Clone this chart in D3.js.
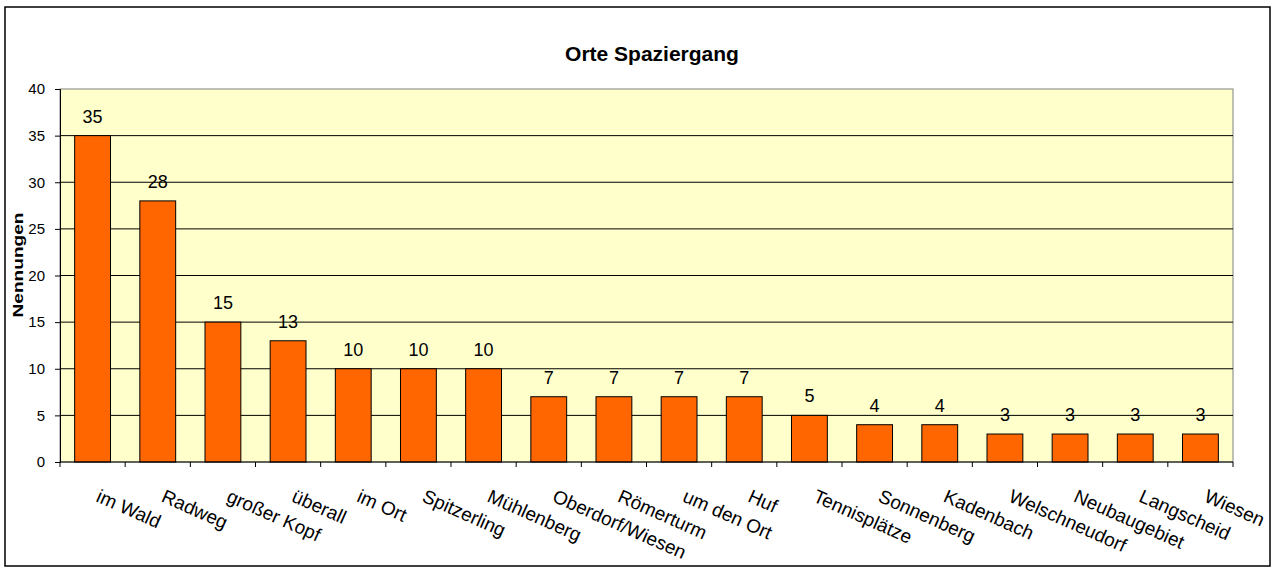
<!DOCTYPE html>
<html><head><meta charset="utf-8">
<script src="https://cdn.jsdelivr.net/npm/d3@7"></script>
<style>body{margin:0;background:#fff;}svg{display:block;font-family:Arial,"Liberation Sans",sans-serif;}</style>
</head><body>
<svg id="c" width="1276" height="569"></svg>
<script>
const categories = ["im Wald","Radweg","großer Kopf","überall","im Ort","Spitzerling","Mühlenberg","Oberdorf/Wiesen","Römerturm","um den Ort","Huf","Tennisplätze","Sonnenberg","Kadenbach","Welschneudorf","Neubaugebiet","Langscheid","Wiesen"];
const values = [35,28,15,13,10,10,10,7,7,7,7,5,4,4,3,3,3,3];
const yTicks = [0,5,10,15,20,25,30,35,40];
const title = "Orte Spaziergang";
const yTitle = "Nennungen";

const svg = d3.select("#c");
const L = 60, R = 1233, T = 89, B = 462;
const FONT = "Arial, 'Liberation Sans', sans-serif";

svg.append("rect").attr("x",5).attr("y",7).attr("width",1265).attr("height",559)
  .attr("fill","#fff").attr("stroke","#000").attr("stroke-width",1.5);

const x = d3.scaleBand().domain(categories).range([L,R]).paddingInner(0.45).paddingOuter(0.225);
const xb = d3.scaleBand().domain(categories).range([L,R]);
const y = d3.scaleLinear().domain([0,40]).range([B,T]);

svg.append("rect").attr("x",L).attr("y",T).attr("width",R-L).attr("height",B-T)
  .attr("fill","#FFFFCC").attr("stroke","#808080").attr("stroke-width",1);

svg.append("g").selectAll("line").data(yTicks.filter(d=>d>0 && d<40)).join("line")
  .attr("x1",L).attr("x2",R).attr("y1",d=>y(d)).attr("y2",d=>y(d))
  .attr("stroke","#000").attr("stroke-width",1);

svg.append("g").selectAll("rect").data(values).join("rect")
  .attr("x",(d,i)=>x(categories[i])).attr("width",x.bandwidth())
  .attr("y",d=>y(d)).attr("height",d=>B-y(d))
  .attr("fill","#FF6600").attr("stroke","#000").attr("stroke-width",1);

svg.append("g").selectAll("text").data(values).join("text")
  .attr("x",(d,i)=>x(categories[i])+x.bandwidth()/2).attr("y",d=>y(d)-13)
  .attr("text-anchor","middle").attr("font-size",18).attr("fill","#000").text(d=>d);

// Y axis
const ya = svg.append("g").attr("transform",`translate(${L},0)`)
  .call(d3.axisLeft(y).tickValues(yTicks).tickSize(5).tickPadding(10));
ya.attr("font-size",15).attr("font-family",FONT);
ya.select(".domain").attr("stroke","#000");
ya.selectAll("text").attr("font-size",15).attr("fill","#000");

// X axis with ticks at band boundaries
const xa = svg.append("g").attr("transform",`translate(0,${B})`);
xa.append("line").attr("x1",L).attr("x2",R).attr("y1",0).attr("y2",0).attr("stroke","#000");
xa.selectAll("line.t").data(categories.concat(["_end"])).join("line").attr("class","t")
  .attr("x1",(d,i)=>L+i*xb.step()).attr("x2",(d,i)=>L+i*xb.step())
  .attr("y1",0).attr("y2",5).attr("stroke","#000");
xa.selectAll("text").data(categories).join("text")
  .attr("transform",d=>`translate(${xb(d)+xb.bandwidth()/2+2.5},${39}) rotate(24)`)
  .attr("text-anchor","start").attr("font-size",19).attr("fill","#000").text(d=>d);

svg.append("text").attr("x",652).attr("y",61).attr("text-anchor","middle")
  .attr("font-size",21).attr("font-weight","bold").text(title);

svg.append("text").attr("transform",`translate(23,265) rotate(-90)`)
  .attr("text-anchor","middle").attr("font-size",15).attr("font-weight","bold")
  .attr("textLength",105).attr("lengthAdjust","spacingAndGlyphs").text(yTitle);
</script>
</body></html>
